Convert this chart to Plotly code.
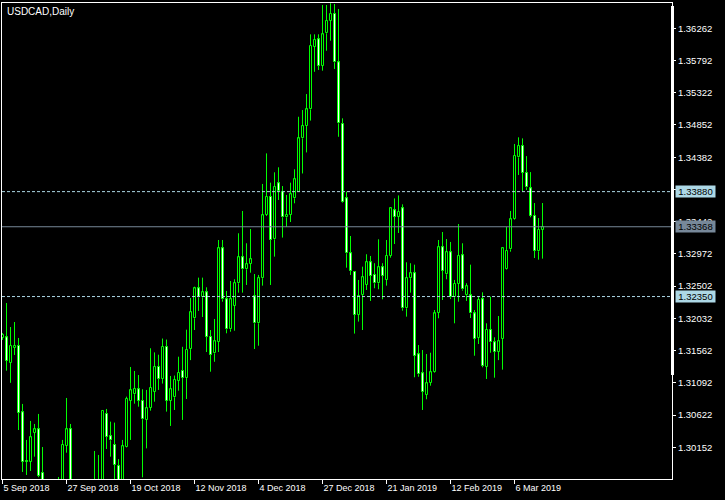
import plotly.graph_objects as go

# ---- data (USDCAD daily) ----
open_ = [1.31746, 1.31755, 1.31385, 1.31600, 1.31629, 1.30662, 1.29952, 1.29938, 1.30365, 1.30414,
         1.29777, 1.29350, 1.29150, 1.29350, 1.29500, 1.29450, 1.30176, 1.30414, 1.29000, 1.28150,
         1.28600, 1.28000, 1.28800, 1.29400, 1.29500, 1.29500, 1.30638, 1.30313, 1.30186, 1.29886,
         1.29600, 1.30161, 1.30832, 1.30925, 1.30998, 1.30832, 1.30551, 1.30730, 1.30964, 1.31329,
         1.31148, 1.31617, 1.30832, 1.30881, 1.31125, 1.31269, 1.31161, 1.31584, 1.32033, 1.32470,
         1.32339, 1.32412, 1.31764, 1.31522, 1.31691, 1.33054, 1.32310, 1.31873, 1.32217, 1.32544,
         1.32923, 1.32748, 1.32830, 1.32358, 1.31960, 1.32618, 1.33539, 1.33806, 1.33184, 1.34002,
         1.33879, 1.33506, 1.33539, 1.33783, 1.33879, 1.34657, 1.34836, 1.35080, 1.35994, 1.36101,
         1.35716, 1.36189, 1.36373, 1.36471, 1.35766, 1.34866, 1.33783, 1.32981, 1.32713, 1.32081,
         1.32373, 1.32519, 1.32850, 1.32665, 1.32544, 1.32777, 1.32592, 1.32946, 1.33608, 1.33510,
         1.33637, 1.32179, 1.32618, 1.32690, 1.31508, 1.31231, 1.30915, 1.31094, 1.31255, 1.32114,
         1.33069, 1.32675, 1.32996, 1.32339, 1.32533, 1.32952, 1.32368, 1.32368, 1.32103, 1.31752,
         1.32310, 1.31327, 1.31862, 1.31683, 1.31541, 1.31738, 1.32748, 1.33039, 1.33476, 1.34380,
         1.34545, 1.34155, 1.33928, 1.33529, 1.33010, 1.33325]
high = [1.31819, 1.32256, 1.31906, 1.31979, 1.31746, 1.30784, 1.30259, 1.30536, 1.30492, 1.30638,
        1.30156, 1.29500, 1.29450, 1.29550, 1.29719, 1.30259, 1.30871, 1.30492, 1.29200, 1.28800,
        1.28750, 1.28900, 1.29500, 1.30098, 1.30040, 1.30696, 1.30711, 1.30526, 1.30512, 1.29980,
        1.30259, 1.30890, 1.31323, 1.31265, 1.31206, 1.30998, 1.30988, 1.31596, 1.31536, 1.31502,
        1.31738, 1.31723, 1.31192, 1.31198, 1.31473, 1.31617, 1.31867, 1.32329, 1.32494, 1.32626,
        1.32626, 1.32485, 1.31862, 1.32023, 1.33175, 1.33175, 1.32432, 1.32577, 1.32602, 1.33273,
        1.33598, 1.33127, 1.33335, 1.32679, 1.32665, 1.33992, 1.34438, 1.34011, 1.34162, 1.34235,
        1.33962, 1.33831, 1.34011, 1.34206, 1.34972, 1.35070, 1.35303, 1.36174, 1.36174, 1.36174,
        1.36602, 1.36602, 1.36627, 1.36616, 1.36544, 1.34949, 1.33879, 1.33233, 1.32720, 1.32592,
        1.32786, 1.32967, 1.32942, 1.32836, 1.33185, 1.32836, 1.33175, 1.33656, 1.33781, 1.33825,
        1.33695, 1.32850, 1.32836, 1.32815, 1.31643, 1.31570, 1.31512, 1.31531, 1.32154, 1.33175,
        1.33291, 1.33189, 1.33146, 1.32592, 1.33408, 1.33127, 1.32544, 1.32815, 1.32154, 1.32348,
        1.32412, 1.31960, 1.32348, 1.31756, 1.32066, 1.33060, 1.33364, 1.33598, 1.34575, 1.34672,
        1.34657, 1.34398, 1.34165, 1.33714, 1.33495, 1.33714]
low = [1.31717, 1.31269, 1.31092, 1.31498, 1.30404, 1.29792, 1.29748, 1.29807, 1.30015, 1.29715,
       1.29180, 1.29050, 1.29000, 1.29150, 1.29250, 1.29350, 1.30073, 1.29100, 1.27800, 1.28000,
       1.27900, 1.27900, 1.28600, 1.29200, 1.29300, 1.29450, 1.30127, 1.30015, 1.29600, 1.29500,
       1.29550, 1.30150, 1.30259, 1.30788, 1.30744, 1.29714, 1.30136, 1.30686, 1.30817, 1.30988,
       1.31081, 1.30672, 1.30463, 1.30696, 1.30977, 1.30551, 1.30856, 1.31423, 1.31862, 1.32140,
       1.32052, 1.31541, 1.31254, 1.31399, 1.31541, 1.32275, 1.31814, 1.31837, 1.31852, 1.32407,
       1.32407, 1.32519, 1.32698, 1.31585, 1.31633, 1.32509, 1.33525, 1.32519, 1.32932, 1.33758,
       1.33210, 1.33364, 1.33437, 1.33710, 1.33875, 1.34145, 1.34452, 1.34916, 1.35628, 1.35654,
       1.35644, 1.35935, 1.36081, 1.35669, 1.34680, 1.33715, 1.32771, 1.32665, 1.31810, 1.31985,
       1.31862, 1.32446, 1.32286, 1.32471, 1.32456, 1.32310, 1.32509, 1.32917, 1.33116, 1.33277,
       1.32144, 1.32057, 1.32407, 1.31173, 1.31181, 1.30696, 1.30852, 1.31050, 1.31240, 1.32033,
       1.32300, 1.32602, 1.32314, 1.31960, 1.32275, 1.32436, 1.32286, 1.32037, 1.31487, 1.31658,
       1.31318, 1.31148, 1.31531, 1.31167, 1.31423, 1.31284, 1.32740, 1.33004, 1.33466, 1.34123,
       1.33889, 1.33904, 1.33506, 1.32912, 1.32888, 1.32903]
close = [1.31790, 1.31414, 1.31629, 1.31629, 1.30657, 1.29938, 1.29940, 1.30298, 1.30414, 1.29738,
         1.29300, 1.29150, 1.29350, 1.29450, 1.29400, 1.30186, 1.30414, 1.29200, 1.28150, 1.28600,
         1.28000, 1.28800, 1.29400, 1.29500, 1.29400, 1.30682, 1.30307, 1.30254, 1.29900, 1.29600,
         1.30167, 1.30856, 1.30983, 1.31002, 1.30832, 1.30561, 1.30721, 1.31017, 1.31329, 1.31148,
         1.31617, 1.30832, 1.30998, 1.31134, 1.31240, 1.31161, 1.31575, 1.32121, 1.32470, 1.32339,
         1.32412, 1.31764, 1.31497, 1.31697, 1.33054, 1.32310, 1.31873, 1.32310, 1.32544, 1.32923,
         1.32748, 1.32821, 1.32894, 1.31960, 1.32618, 1.33535, 1.33806, 1.33175, 1.33952, 1.33894,
         1.33506, 1.33539, 1.33841, 1.34060, 1.34657, 1.34836, 1.35080, 1.36004, 1.36091, 1.35716,
         1.36174, 1.36373, 1.36471, 1.35766, 1.34876, 1.33724, 1.32981, 1.32723, 1.32081, 1.32358,
         1.32631, 1.32850, 1.32650, 1.32544, 1.32777, 1.32650, 1.32946, 1.33637, 1.33510, 1.33589,
         1.32179, 1.32618, 1.32690, 1.31483, 1.31216, 1.30963, 1.31085, 1.31246, 1.32103, 1.33069,
         1.32727, 1.32996, 1.32339, 1.32533, 1.32942, 1.32456, 1.32500, 1.32103, 1.31738, 1.32300,
         1.31337, 1.31862, 1.31683, 1.31541, 1.31698, 1.33054, 1.33014, 1.33476, 1.34404, 1.34545,
         1.34155, 1.33942, 1.33529, 1.33019, 1.33325, 1.33368]

date_tick_index = [0, 16, 32, 48, 64, 80, 96, 112, 128]
date_tick_text = ["5 Sep 2018", "27 Sep 2018", "19 Oct 2018", "12 Nov 2018", "4 Dec 2018",
                  "27 Dec 2018", "21 Jan 2019", "12 Feb 2019", "6 Mar 2019"]
price_ticks = [1.36262, 1.35792, 1.35322, 1.34852, 1.34382, 1.33912, 1.33442,
               1.32972, 1.32502, 1.32032, 1.31562, 1.31092, 1.30622, 1.30152]
hidden_price_ticks = [1.33912]   # covered by the level label in the reference
level_lines = [1.33880, 1.32350]
title_text = "USDCAD,Daily"

# ---- styling ----
GREEN = "#00ff00"
LEVEL_COL = "#add8e6"
BID_COL = "#778899"
FONT = "Liberation Sans, Arial, sans-serif"

n = len(close)
idx = list(range(n))
body_base = [min(o, c) for o, c in zip(open_, close)]
body_h = [abs(c - o) for o, c in zip(open_, close)]
body_col = ["black" if c >= o else "white" for o, c in zip(open_, close)]

wx, wy = [], []
for i in idx:
    top = max(open_[i], close[i])
    bot = min(open_[i], close[i])
    wx += [i, i, None, i, i, None]
    wy += [high[i], top, None, bot, low[i], None]

fig = go.Figure()
fig.add_trace(go.Scatter(x=wx, y=wy, mode="lines", line=dict(color=GREEN, width=1),
                         hoverinfo="skip", showlegend=False))
fig.add_trace(go.Bar(x=idx, y=body_h, base=body_base, width=0.5,
                     marker=dict(color=body_col, line=dict(color=GREEN, width=1)),
                     customdata=list(zip(open_, high, low, close)),
                     hovertemplate="O %{customdata[0]:.5f}<br>H %{customdata[1]:.5f}<br>"
                                   "L %{customdata[2]:.5f}<br>C %{customdata[3]:.5f}<extra></extra>",
                     showlegend=False))

# horizontal level lines
for lv in level_lines:
    fig.add_shape(type="line", xref="paper", x0=0, x1=1, yref="y", y0=lv, y1=lv,
                  line=dict(color=LEVEL_COL, width=1, dash="3px,2px"), layer="above")
    fig.add_annotation(xref="paper", x=1, xanchor="left", xshift=3, yref="y", y=lv,
                       text=f"{lv:.5f}", showarrow=False, bgcolor=LEVEL_COL, borderpad=0,
                       width=39, height=11, align="center",
                       font=dict(family=FONT, size=9.5, color="black"))
bid = close[-1]
fig.add_shape(type="line", xref="paper", x0=0, x1=1, yref="y", y0=bid, y1=bid,
              line=dict(color=BID_COL, width=1), layer="above")
fig.add_annotation(xref="paper", x=1, xanchor="left", xshift=3, yref="y", y=bid,
                   text=f"{bid:.5f}", showarrow=False, bgcolor=BID_COL, borderpad=0,
                   width=39, height=11, align="center",
                   font=dict(family=FONT, size=9.5, color="black"))

# thick marker on the price scale
fig.add_shape(type="rect", xref="paper", yref="paper", x0=669 / 670, x1=672 / 670,
              y0=(479 - 375) / 476, y1=(479 - 6) / 476, fillcolor="white",
              line=dict(width=0), layer="above")

fig.add_annotation(xref="paper", yref="paper", x=0, y=1, xanchor="left", yanchor="top",
                   xshift=3, yshift=-1, text=title_text, showarrow=False,
                   font=dict(family=FONT, size=10, color="white"))

fig.update_layout(
    width=725, height=500,
    margin=dict(l=2, r=53, t=3, b=21),
    paper_bgcolor="black", plot_bgcolor="black",
    bargap=0, bargroupgap=0,
    showlegend=False,
    font=dict(family=FONT, size=9, color="white"),
    xaxis=dict(range=[-0.125, 167.375], showgrid=False, zeroline=False,
               showline=True, linecolor="white", linewidth=1, mirror=True,
               tickmode="array", tickvals=date_tick_index, ticktext=date_tick_text,
               ticks="outside", ticklen=4, tickcolor="white",
               ticklabelposition="outside right",
               tickfont=dict(family=FONT, size=9, color="white")),
    yaxis=dict(range=[1.296894, 1.366310], side="right", showgrid=False, zeroline=False,
               showline=True, linecolor="white", linewidth=1, mirror=True,
               tickmode="array", tickvals=price_ticks,
               ticktext=["" if v in hidden_price_ticks else f"{v:.5f}" for v in price_ticks],
               ticks="outside", ticklen=3, tickcolor="white",
               tickfont=dict(family=FONT, size=9.5, color="white")),
)

fig.write_html("out.html", config={"displayModeBar": False},
               post_script="document.body.style.margin='0';")
